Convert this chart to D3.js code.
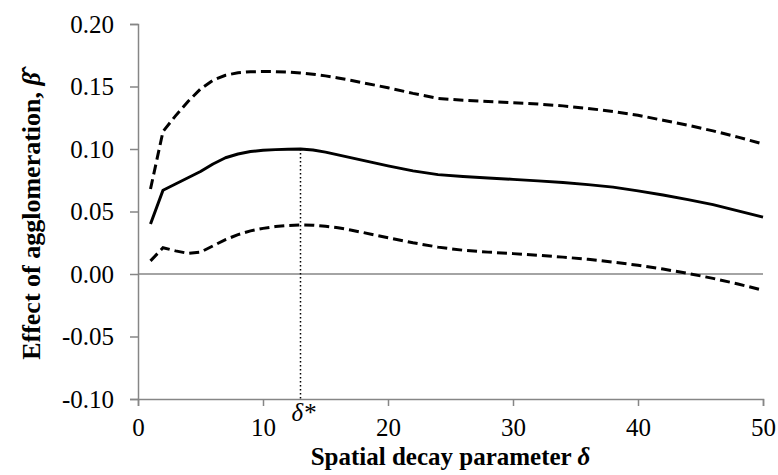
<!DOCTYPE html>
<html>
<head>
<meta charset="utf-8">
<script src="https://cdn.jsdelivr.net/npm/d3@7"></script>
<style>
  body { margin: 0; background: #fff; }
  text { font-family: "Liberation Serif", "DejaVu Serif", serif; }
</style>
</head>
<body>
<div id="chart"></div>
<script>
// decay parameter values (x)
var deltas = [1,2,3,4,5,6,7,8,9,10,11,12,13,14,15,16,17,18,19,20,
              22,24,26,28,30,32,34,36,38,40,42,44,46,48,50];

// point estimate of beta
var estimate = [0.040,0.067,0.072,0.077,0.082,0.088,0.093,0.096,0.098,0.099,
                0.0995,0.0998,0.100,0.0992,0.0975,0.0953,0.0931,0.0909,0.0887,0.0865,
                0.0825,0.0795,0.0780,0.0768,0.0757,0.0745,0.0732,0.0715,0.0695,0.0665,
                0.0632,0.0595,0.0555,0.0505,0.0455];

// upper confidence bound
var upper = [0.068,0.114,0.1265,0.138,0.148,0.155,0.159,0.161,0.1618,0.162,
             0.1619,0.1615,0.1608,0.1598,0.1585,0.1568,0.1550,0.1530,0.1510,0.1490,
             0.1445,0.1405,0.1390,0.1380,0.1370,0.1360,0.1345,0.1325,0.1300,0.1270,
             0.1230,0.1190,0.1145,0.1095,0.1040];

// lower confidence bound
var lower = [0.0105,0.021,0.0185,0.0165,0.0175,0.0225,0.0275,0.0315,0.0345,0.0365,
             0.0380,0.0388,0.0392,0.0390,0.0382,0.0370,0.0352,0.0332,0.0310,0.0290,
             0.0250,0.0215,0.0190,0.0175,0.0163,0.0150,0.0135,0.0118,0.0095,0.0070,
             0.0040,0.0005,-0.0035,-0.0080,-0.0130];

var deltaStar = 13;
var deltaStarBeta = 0.100;

var xTicks = [0,10,20,30,40,50];
var yTicks = [-0.10,-0.05,0.00,0.05,0.10,0.15,0.20];
var yTickLabels = ["-0.10","-0.05","0.00","0.05","0.10","0.15","0.20"];

var svgWidth = 778, svgHeight = 475;
var margin = { top: 24, right: 15, bottom: 76, left: 138 };
var width = svgWidth - margin.left - margin.right;
var height = svgHeight - margin.top - margin.bottom;
var axisColor = "#868686";

var svg = d3.select("#chart")
  .append("svg")
  .attr("width", svgWidth)
  .attr("height", svgHeight);

var g = svg.append("g")
  .attr("transform", "translate(" + margin.left + "," + margin.top + ")");

var x = d3.scaleLinear().domain([0, 50]).range([0, width]);
var y = d3.scaleLinear().domain([-0.10, 0.20]).range([height, 0]);

// y axis
var yAxis = d3.axisLeft(y)
  .tickValues(yTicks)
  .tickFormat(function(d, i) { return yTickLabels[i]; })
  .tickSize(8)
  .tickPadding(16);

var gy = g.append("g").call(yAxis);
gy.select(".domain").attr("stroke", axisColor).attr("stroke-width", 1.5);
gy.selectAll(".tick line").attr("stroke", axisColor).attr("stroke-width", 1.5);
gy.selectAll(".tick text")
  .attr("fill", "#000")
  .style("font-size", "25px")
  .style("font-family", "Liberation Serif");

// x axis
var xAxis = d3.axisBottom(x)
  .tickValues(xTicks)
  .tickSize(7);

var gx = g.append("g")
  .attr("transform", "translate(0," + height + ")")
  .call(xAxis);
gx.select(".domain").attr("stroke", axisColor).attr("stroke-width", 1.5);
gx.selectAll(".tick line").attr("stroke", axisColor).attr("stroke-width", 1.5);
gx.selectAll(".tick text")
  .attr("fill", "#000")
  .attr("dy", null)
  .attr("y", 37)
  .style("font-size", "25px")
  .style("font-family", "Liberation Serif");

// zero line
g.append("line")
  .attr("x1", x(0)).attr("x2", x(50))
  .attr("y1", y(0)).attr("y2", y(0))
  .attr("stroke", axisColor)
  .attr("stroke-width", 1.5);

// dotted marker at delta*
g.append("line")
  .attr("x1", x(deltaStar)).attr("x2", x(deltaStar))
  .attr("y1", y(deltaStarBeta)).attr("y2", y(-0.10))
  .attr("stroke", "#000")
  .attr("stroke-width", 1.5)
  .attr("stroke-dasharray", "1.5,2.5");

g.append("text")
  .attr("x", x(deltaStar) + 3)
  .attr("y", height + 22)
  .attr("text-anchor", "middle")
  .style("font-size", "25px")
  .style("font-style", "italic")
  .text("\u03B4*");

function lineFor(vals) {
  return d3.line()
    .x(function(d, i) { return x(deltas[i]); })
    .y(function(d) { return y(d); })(vals);
}

g.append("path")
  .attr("d", lineFor(upper))
  .attr("fill", "none")
  .attr("stroke", "#000")
  .attr("stroke-width", 3)
  .attr("stroke-dasharray", "10,5");

g.append("path")
  .attr("d", lineFor(lower))
  .attr("fill", "none")
  .attr("stroke", "#000")
  .attr("stroke-width", 3)
  .attr("stroke-dasharray", "10,5");

g.append("path")
  .attr("d", lineFor(estimate))
  .attr("fill", "none")
  .attr("stroke", "#000")
  .attr("stroke-width", 3)
  .attr("stroke-linejoin", "round");

// x axis title
var xt = svg.append("text")
  .attr("x", margin.left + width / 2)
  .attr("y", 465)
  .attr("text-anchor", "middle")
  .style("font-size", "25px")
  .style("font-weight", "bold");
xt.append("tspan").text("Spatial decay parameter ");
xt.append("tspan").style("font-style", "italic").text("\u03B4");

// y axis title
var yt = svg.append("text")
  .attr("transform", "translate(40,216) rotate(-90)")
  .attr("text-anchor", "middle")
  .style("font-size", "26px")
  .style("font-weight", "bold");
yt.append("tspan").text("Effect of agglomeration, ");
yt.append("tspan").style("font-style", "italic").text("\u03B2\u0302");
</script>
</body>
</html>
